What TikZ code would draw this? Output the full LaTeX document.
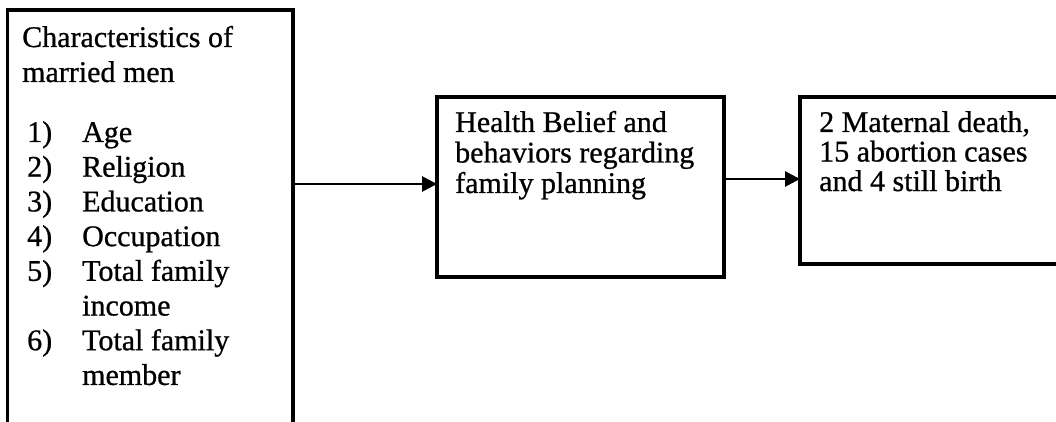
\documentclass[tikz,border=0pt]{standalone}
\usepackage{fontspec}
\setmainfont{Liberation Serif}
\newfontfamily\scanfont{Liberation Serif}[FakeBold=0.8]
\usetikzlibrary{arrows.meta}
\begin{document}
\begin{tikzpicture}[x=1pt,y=-1pt]
		\tikzset{box/.style = {shape=rectangle,draw,line width=3.2pt,outer sep=0pt,anchor=north west}}
		\tikzset{txt/.style = {inner sep=0pt,anchor=base west,align=left,font=\scanfont\fontsize{30}{35}\selectfont}}
		\tikzset{edge/.style = {-{Triangle[length=15pt,width=15pt]},line width=2.8pt}}
		\useasboundingbox (0,0) rectangle (1056,422);
		\clip (0,0) rectangle (1056,422);
		\node[box,minimum width=285.5pt,minimum height=440pt] (chars) at (7.5,10) {};
		\node[box,minimum width=287pt,minimum height=180pt] (belief) at (437,97) {};
		\node[box,minimum width=290pt,minimum height=167pt] (outcome) at (800,97) {};
		% base anchor of a multi-line node sits on its last line
		\node[txt] (head) at (22,82) {Characteristics of\\married men};
		\foreach \nr/\itm [count=\i from 0] in {1)/Age,2)/Religion,3)/Education,4)/Occupation,5)/Total family,/income,6)/Total family,/member} {
			\node[txt] (nr\i) at (27,142+34.7*\i) {\nr};
			\node[txt] (item\i) at (82,142+34.7*\i) {\itm};
		}
		\node[txt,font=\scanfont\fontsize{30}{30.5}\selectfont] (belieftext) at (455,193) {Health Belief and\\behaviors regarding\\family planning};
		\node[txt,font=\scanfont\fontsize{30}{29.5}\selectfont] (outcometext) at (819,191) {2 Maternal death,\\15 abortion cases\\and 4 still birth};
		\coordinate (a1) at (0,184);
		\coordinate (a2) at (0,179);
		\draw[edge] (chars.east |- a1) -- (belief.west |- a1);
		\draw[edge] (belief.east |- a2) -- (outcome.west |- a2);
	\end{tikzpicture}
\end{document}
